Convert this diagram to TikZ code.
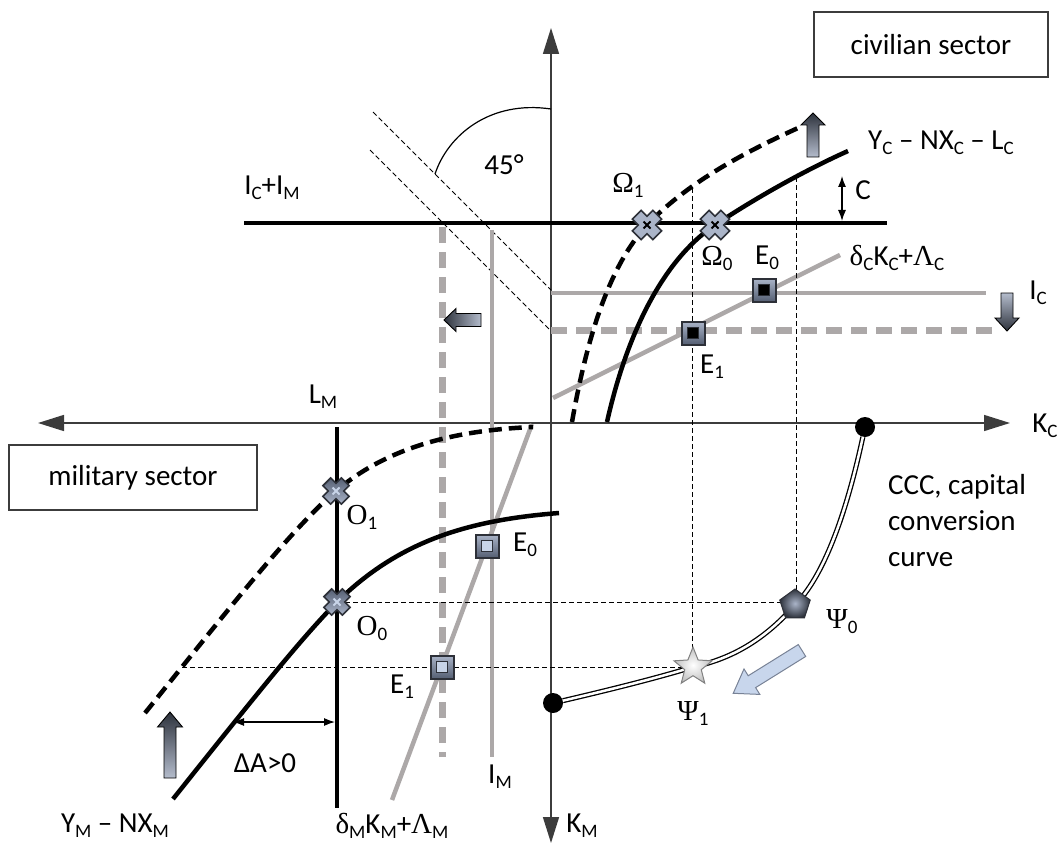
\documentclass[tikz,border=0pt]{standalone}
\usepackage{fontspec}
\setmainfont{Carlito}
\newfontfamily\grkfont{Liberation Serif}
\usetikzlibrary{arrows.meta,shapes.geometric}

\definecolor{axisgray}{RGB}{60,60,60}
\definecolor{linegray}{RGB}{172,168,168}
\definecolor{mkedge}{RGB}{45,48,56}
\definecolor{mkdark}{RGB}{85,95,115}
\definecolor{mklight}{RGB}{170,180,200}
\definecolor{pale}{RGB}{200,212,232}
\definecolor{blkdark}{RGB}{45,50,60}
\definecolor{blklight}{RGB}{180,188,204}
\definecolor{arrowblue}{RGB}{200,214,236}
\definecolor{arrowedge}{RGB}{120,130,150}

\newcommand\gk[1]{{\grkfont #1}}
\newcommand\sbs[1]{\raisebox{-5pt}{\fontsize{19}{20}\selectfont #1}}

\tikzset{
  pics/xmk/.style n args={3}{code={
    \filldraw[draw=mkedge,line width=1.6pt,top color=#1,bottom color=mklight,rotate=45,scale=#3]
      (-5.5,-13) -- (5.5,-13) -- (5.5,-5.5) -- (13,-5.5) -- (13,5.5) -- (5.5,5.5) -- (5.5,13)
      -- (-5.5,13) -- (-5.5,5.5) -- (-13,5.5) -- (-13,-5.5) -- (-5.5,-5.5) -- cycle;
    \draw[#2,line width=1.8pt] (-3.5,-3.5) -- (3.5,3.5) (-3.5,3.5) -- (3.5,-3.5);
  }},
  pics/esq/.style={code={
    \filldraw[draw=mkedge,line width=2pt,top color=mklight,bottom color=mkdark] (-11.5,-11.5) rectangle (11.5,11.5);
    \filldraw[draw=mkedge,line width=1pt,fill=#1] (-5.5,-5.5) rectangle (5.5,5.5);
  }},
}

\begin{document}
\begin{tikzpicture}[x=1pt,y=-1pt,
    font=\fontsize{29}{36}\selectfont,
    axis/.style={draw=axisgray,line width=1.5pt},
    curve/.style={line width=4.5pt},
    dcurve/.style={line width=4.5pt,dash pattern=on 13pt off 7pt},
    gline/.style={draw=linegray,line width=4.5pt},
    gdash/.style={draw=linegray,line width=7pt,dash pattern=on 16pt off 9pt},
    guide/.style={line width=1pt,dash pattern=on 5pt off 3pt},
    lab/.style={inner sep=0pt},
    sector/.style={draw=axisgray,line width=1.2pt,minimum width=#1,minimum height=65pt},
    upblk/.style={draw=black,line width=0.9pt,top color=blkdark,bottom color=blklight},
    downblk/.style={draw=black,line width=0.9pt,top color=blklight,bottom color=blkdark},
    leftblk/.style={draw=black,line width=0.9pt,left color=blkdark,right color=blklight},
    dot/.style={circle,fill=black,inner sep=0pt,minimum size=20pt},
    tip/.style={-{Triangle[length=26pt,width=16pt]}}
]
\useasboundingbox (0,0) rectangle (1060,845);

% points of the two sectors
\coordinate (O1) at (336,491);
\coordinate (O0) at (337,602);
\coordinate (W1) at (647,225);
\coordinate (W0) at (715,225);
\coordinate (Em0) at (487,546);
\coordinate (Em1) at (442,667);
\coordinate (Ec0) at (764,290);
\coordinate (Ec1) at (693,333);
\coordinate (P0) at (795,605);
\coordinate (S1) at (693,667);

% axes
\coordinate (xl) at (38,423);
\coordinate (xr) at (1010,423);
\coordinate (yt) at (551,28);
\coordinate (yb) at (551,843);
\draw[axis,tip] (xl -| yt) -- (xl);
\draw[axis,tip] (xl -| yt) -- (xr);
\draw[axis,tip] (xl -| yt) -- (yt);
\draw[axis,tip] (xl -| yt) -- (yb);

\node[lab] (KC) at (1045,426) {K\sbs{C}};
\node[lab] (KM) at (582,826) {K\sbs{M}};
\node[lab] (LM) at (323,397) {L\sbs{M}};

% sector boxes
\node[sector=234pt] (civ) at (931,44.5) {civilian sector};
\node[sector=248pt] (mil) at (133,477.5) {military sector};

% 45 degree lines
\coordinate (d1a) at (373,112);
\coordinate (d1b) at (551,290);
\coordinate (d2a) at (370,150);
\coordinate (d2b) at (549,329);
\draw[guide] (d1a) -- (d1b);
\draw[guide] (d2a) -- (d2b);
\draw[line width=1.2pt] (435,174) .. controls (448,135) and (490,100) .. (551,109);
\node[lab] (ang) at (504,165) {45°};

% grey investment lines
\coordinate (ica) at (551,293);
\coordinate (icb) at (986,293);
\coordinate (ida) at (551,330);
\coordinate (idb) at (995,330);
\coordinate (ima) at (492,230);
\coordinate (imb) at (492,757);
\coordinate (ina) at (442,227);
\coordinate (inb) at (442,757);
\coordinate (dca) at (553,398);
\coordinate (dcb) at (840,255);
\coordinate (dma) at (532,424);
\coordinate (dmb) at (392,800);
\draw[gline] (ica) -- (icb);
\draw[gdash] (ida) -- (idb);
\draw[gline] (ima) -- (imb);
\draw[gdash] (ina) -- (inb);
\draw[gline] (dca) -- (dcb);
\draw[gline] (dma) -- (dmb);

% guides
\coordinate (v0) at (796,177);
\coordinate (v1) at (692,188);
\coordinate (h1) at (182,667);
\draw[guide] (O0) -- (O0 -| P0);
\draw[guide] (h1) -- (S1);
\draw[guide] (v0) -- (v0 |- P0);
\draw[guide] (v1) -- (v1 |- S1);

% black lines
\coordinate (tla) at (244,223);
\coordinate (tlb) at (887,223);
\coordinate (lma) at (337,427);
\coordinate (lmb) at (337,808);
\draw[curve] (tla) -- (tlb);
\draw[curve] (lma) -- (lmb);

% output curves
\draw[curve] (173,799) .. controls (260,690) and (300,640) .. (O0)
  .. controls (400,540) and (470,520) .. (559,513);
\draw[dcurve] (145,713) .. controls (220,620) and (290,530) .. (O1)
  .. controls (390,445) and (460,430) .. (533,427);
\draw[curve] (607,422) .. controls (630,320) and (670,255) .. (W0)
  .. controls (760,195) and (810,168) .. (848,151);
\draw[dcurve] (572,422) .. controls (590,320) and (615,260) .. (W1)
  .. controls (690,180) and (750,150) .. (798,128);

% capital conversion curve
\node[dot] (ct) at (865,427) {};
\node[dot] (cb) at (553,703) {};
\draw[line width=1.3pt,double=white,double distance=2.5pt]
  (ct) .. controls (845,520) and (822,578) .. (P0)
  .. controls (760,645) and (725,660) .. (S1)
  .. controls (650,680) and (600,692) .. (cb);

% measured gaps
\draw[line width=1.2pt,{Latex[length=11pt,width=8pt]}-{Latex[length=11pt,width=8pt]}] (233,722) -- (335,722);
\draw[line width=1.2pt,{Latex[length=11pt,width=8pt]}-{Latex[length=11pt,width=8pt]}] (842,176) -- (842,221);

% shift arrows
\shade[upblk] (164,778) -- (176,778) -- (176,727) -- (182.5,727) -- (170,712) -- (157.5,727) -- (164,727) -- cycle;
\shade[upblk] (807,157) -- (819,157) -- (819,125) -- (825,125) -- (813,113) -- (801,125) -- (807,125) -- cycle;
\shade[downblk] (1001,293) -- (1013,293) -- (1013,318) -- (1019,318) -- (1007,331) -- (995,318) -- (1001,318) -- cycle;
\shade[leftblk] (481,313.5) -- (481,326.5) -- (456,326.5) -- (456,331.5) -- (444,320) -- (456,308.5) -- (456,313.5) -- cycle;
\begin{scope}[shift={(802,650.5)},rotate=211.9]
  \filldraw[draw=arrowedge,line width=1pt,fill=arrowblue]
    (0,-7) -- (59,-7) -- (59,-15) -- (81,0) -- (59,15) -- (59,7) -- (0,7) -- cycle;
\end{scope}

% markers
\pic at (O1) {xmk={mkdark}{pale}{1}};
\pic at (O0) {xmk={mkdark}{pale}{1}};
\pic at (W1) {xmk={mklight}{black}{1.12}};
\pic at (W0) {xmk={mklight}{black}{1.12}};
\pic at (Em0) {esq=pale};
\pic at (Em1) {esq=pale};
\pic at (Ec0) {esq=black};
\pic at (Ec1) {esq=black};
\node[regular polygon,regular polygon sides=5,minimum size=32pt,inner sep=0pt,
      draw=mkedge,line width=1pt,inner color=mklight,outer color=blkdark] (Psi0) at (P0) {};
\node[star,star points=5,star point ratio=2.3,minimum size=40pt,inner sep=0pt,
      draw=gray,line width=1pt,inner color=white,outer color=lightgray] (Psi1) at (S1) {};

% labels
\node[lab] (lO1) at (362,517) {\gk{O}\sbs{1}};
\node[lab] (lO0) at (372,628) {\gk{O}\sbs{0}};
\node[lab] (lEm0) at (525,545) {E\sbs{0}};
\node[lab] (lEm1) at (402,687) {E\sbs{1}};
\node[lab] (lIM) at (500,777) {I\sbs{M}};
\node[lab] (lDA) at (265,763) {ΔA>0};
\node[lab] (lYM) at (115,826) {Y\sbs{M} – NX\sbs{M}};
\node[lab] (lDM) at (392,826) {\gk{δ}\sbs{M}K\sbs{M}+\gk{Λ}\sbs{M}};
\node[lab] (lW1) at (628,185) {\gk{Ω}\sbs{1}};
\node[lab] (lW0) at (717,258) {\gk{Ω}\sbs{0}};
\node[lab] (lEc0) at (767,258) {E\sbs{0}};
\node[lab] (lEc1) at (712,367) {E\sbs{1}};
\node[lab] (lDC) at (897,258) {\gk{δ}\sbs{C}K\sbs{C}+\gk{Λ}\sbs{C}};
\node[lab] (lYC) at (941,143) {Y\sbs{C} – NX\sbs{C} – L\sbs{C}};
\node[lab] (lC) at (863,190) {C};
\node[lab] (lIC) at (1038,293) {I\sbs{C}};
\node[lab] (lICM) at (272,188) {I\sbs{C}+I\sbs{M}};
\node[lab] (lP0) at (842,622) {\gk{Ψ}\sbs{0}};
\node[lab] (lP1) at (693,713) {\gk{Ψ}\sbs{1}};
\node[lab,anchor=west,align=left] (lCCC) at (888,521) {CCC, capital\\conversion\\curve};
\end{tikzpicture}
\end{document}
